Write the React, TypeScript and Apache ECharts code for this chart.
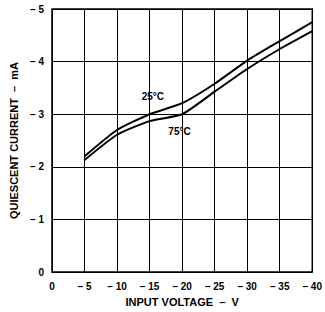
import React, { useEffect, useRef } from "react";
import * as echarts from "echarts";

const voltages = [-5, -10, -15, -20, -25, -30, -35, -40];
const current25 = [-2.2, -2.7, -3.0, -3.21, -3.58, -4.02, -4.39, -4.75];
const current75 = [-2.13, -2.61, -2.87, -3.0, -3.43, -3.86, -4.24, -4.58];
const xTicks = [0, -5, -10, -15, -20, -25, -30, -35, -40];
const yTicks = [0, -1, -2, -3, -4, -5];

const fmt = (v: number) => (v === 0 ? "0" : "\u2013 " + Math.abs(v));
const FONT = "'Liberation Sans', Arial, sans-serif";

export default function App() {
  const ref = useRef<HTMLDivElement>(null);
  useEffect(() => {
    if (!ref.current) return;
    const chart = echarts.init(ref.current, undefined, { renderer: "svg" });
    const pts = (ys: number[]) => voltages.map((v, i) => [v, ys[i]]);
    chart.setOption({
      animation: false,
      backgroundColor: "#fff",
      grid: { left: 52, right: 7, top: 9, bottom: 36, show: true, borderColor: "#000", borderWidth: 1.5 },
      xAxis: {
        type: "value",
        min: -40,
        max: 0,
        interval: 5,
        inverse: true,
        name: "INPUT VOLTAGE  \u2013  V",
        nameLocation: "middle",
        nameGap: 23,
        nameTextStyle: { color: "#000", fontFamily: FONT, fontWeight: "bold", fontSize: 11 },
        axisLine: { show: false },
        axisTick: { show: false },
        axisLabel: { color: "#000", fontFamily: FONT, fontWeight: "bold", fontSize: 10, margin: 9, formatter: (v: number) => (xTicks.includes(v) ? fmt(v) : "") },
        splitLine: { show: true, lineStyle: { color: "#000", width: 1 } },
      },
      yAxis: {
        type: "value",
        min: -5,
        max: 0,
        interval: 1,
        inverse: true,
        name: "QUIESCENT CURRENT  \u2013  mA",
        nameLocation: "middle",
        nameGap: 33,
        nameTextStyle: { color: "#000", fontFamily: FONT, fontWeight: "bold", fontSize: 11 },
        axisLine: { show: false },
        axisTick: { show: false },
        axisLabel: { color: "#000", fontFamily: FONT, fontWeight: "bold", fontSize: 10, margin: 8, formatter: (v: number) => (yTicks.includes(v) ? fmt(v) : "") },
        splitLine: { show: true, lineStyle: { color: "#000", width: 1 } },
      },
      series: [
        {
          name: "25°C",
          type: "line",
          data: pts(current25),
          smooth: 0.2,
          showSymbol: false,
          lineStyle: { color: "#000", width: 2 },
          markPoint: {
            symbol: "rect",
            symbolSize: 0,
            data: [{ coord: [-15.5, -3.34], value: "25°C" }],
            label: { show: true, position: "inside", formatter: "25°C", color: "#000", fontFamily: FONT, fontWeight: "bold", fontSize: 10 },
          },
        },
        {
          name: "75°C",
          type: "line",
          data: pts(current75),
          smooth: 0.2,
          showSymbol: false,
          lineStyle: { color: "#000", width: 2 },
          markPoint: {
            symbol: "rect",
            symbolSize: 0,
            data: [{ coord: [-19.6, -2.68], value: "75°C" }],
            label: { show: true, position: "inside", formatter: "75°C", color: "#000", fontFamily: FONT, fontWeight: "bold", fontSize: 10 },
          },
        },
      ],
    });
    return () => chart.dispose();
  }, []);
  return <div ref={ref} style={{ width: 325, height: 312, position: "absolute", left: 0, top: 0 }} />;
}
